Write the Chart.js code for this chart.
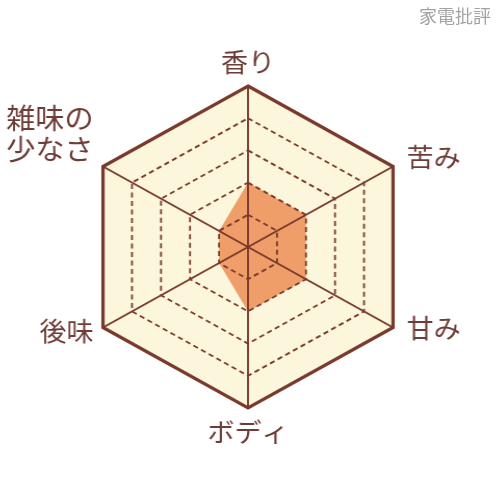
<!DOCTYPE html>
<html><head><meta charset="utf-8">
<script src="https://cdn.jsdelivr.net/npm/chart.js@4"></script>
<style>
html,body{margin:0;padding:0;background:#fff;overflow:hidden;width:500px;height:495px;}
#wrap{position:relative;width:500px;height:495px;overflow:hidden;}
canvas{position:absolute;left:0;top:0;transform:scaleX(1.04);transform-origin:248px 0;}
#wm{position:absolute;right:9px;top:2px;font:18px "Noto Sans CJK JP",sans-serif;color:#a3a3a3;}
</style></head>
<body><div id="wrap"><canvas id="c" width="500" height="495"></canvas><div id="wm">家電批評</div></div>
<script>
const categories = [['香り'], ['苦み'], ['甘み'], ['ボディ'], ['後味'], ['雑味の', '少なさ']];
const values = [2, 2, 2, 2, 1, 1];
const scaleMin = 0;
const scaleMax = 5;
const tickStep = 1;

const brown = '#7a392d';
const textColor = '#6e3c36';
const cream = '#fcf7dc';
const orange = '#f09e69';

const hexBackground = {
  id: 'hexBackground',
  beforeDatasetsDraw(chart) {
    const s = chart.scales.r, ctx = chart.ctx;
    ctx.save();
    ctx.beginPath();
    categories.forEach((_, i) => {
      const p = s.getPointPosition(i, s.drawingArea);
      i ? ctx.lineTo(p.x, p.y) : ctx.moveTo(p.x, p.y);
    });
    ctx.closePath();
    ctx.fillStyle = cream;
    ctx.fill();
    ctx.restore();
  }
};

const axisLabels = {
  id: 'axisLabels',
  afterDraw(chart) {
    const s = chart.scales.r, ctx = chart.ctx, r = s.drawingArea;
    ctx.save();
    ctx.fillStyle = textColor;
    ctx.textBaseline = 'middle';
    categories.forEach((lines, i) => {
      const p = s.getPointPosition(i, r);
      const a = s.getIndexAngle(i);
      const sx = Math.sin(a), cy = -Math.cos(a);
      const multi = lines.length > 1;
      const size = multi ? 28 : 26;
      const lh = multi ? 31 : 30;
      ctx.font = size + 'px "Noto Sans CJK JP", sans-serif';
      const maxW = Math.max(...lines.map(l => ctx.measureText(l).width));
      let cx, firstY;
      if (Math.abs(sx) < 0.01) {
        cx = p.x;
        const mid = p.y + cy * 24;
        firstY = mid - (lines.length - 1) * lh / 2;
      } else {
        const gap = sx > 0 ? 13 : 9;
        cx = sx > 0 ? p.x + gap + maxW / 2 : p.x - gap - maxW / 2;
        if (cy < 0) {
          firstY = p.y - (multi ? 17 : 9) - (lines.length - 1) * lh;
        } else {
          firstY = p.y + (sx > 0 ? 1 : 4);
        }
      }
      ctx.textAlign = 'center';
      lines.forEach((l, k) => ctx.fillText(l, cx, firstY + k * lh));
    });
    ctx.restore();
  }
};

new Chart(document.getElementById('c'), {
  type: 'radar',
  data: {
    labels: categories,
    datasets: [{
      data: values,
      backgroundColor: orange,
      borderWidth: 0,
      pointRadius: 0,
      pointHoverRadius: 0,
      fill: true
    }]
  },
  options: {
    responsive: false,
    animation: false,
    devicePixelRatio: 1,
    layout: { padding: { left: 87, right: 91, top: 86, bottom: 87 } },
    plugins: { legend: { display: false }, tooltip: { enabled: false } },
    scales: {
      r: {
        min: scaleMin,
        max: scaleMax,
        ticks: { display: false, stepSize: tickStep },
        pointLabels: { display: false },
        angleLines: { color: brown, lineWidth: 1.9 },
        grid: {
          z: 1,
          color: brown,
          lineWidth: c => (c.tick && c.tick.value === scaleMax) ? 3.2 : 1.8
        },
        border: {
          dash: c => (c.tick && c.tick.value === scaleMax) ? [] : [5, 3.5]
        }
      }
    }
  },
  plugins: [hexBackground, axisLabels]
});
</script>
</body></html>
